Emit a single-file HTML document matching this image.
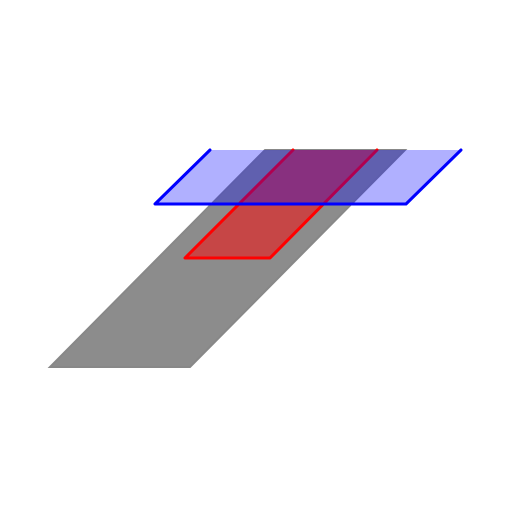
<!DOCTYPE html>
<html><head><meta charset="utf-8"><style>html,body{margin:0;padding:0;background:#fff;width:512px;height:512px;overflow:hidden}</style></head>
<body>
<svg id="chart" width="512" height="512" viewBox="0 0 512 512" xmlns="http://www.w3.org/2000/svg"></svg>
<script>
const grayQuad = [[50,367],[190,367],[405,150],[265,150]];
const redQuad = [[185,258],[270,258],[377,150],[293,150]];
const blueQuad = [[155,204],[406,204],[461,150],[210,150]];
const NS = 'http://www.w3.org/2000/svg';
const svg = document.getElementById('chart');
function pts(q){return q.map(p=>p.join(',')).join(' ');}
function quad(q, fill, op, name){
  const p = document.createElementNS(NS,'polygon');
  p.setAttribute('points', pts(q));
  p.setAttribute('fill', fill);
  p.setAttribute('fill-opacity', op);
  p.setAttribute('stroke', 'none');
  
  
  svg.appendChild(p);
}
function edges(q, color, name){
  const l = document.createElementNS(NS,'polyline');
  l.setAttribute('points', pts([q[3],q[0],q[1],q[2]]));
  l.setAttribute('fill','none');
  l.setAttribute('stroke', color);
  l.setAttribute('stroke-width','3');
  l.setAttribute('stroke-linecap','round');
  l.setAttribute('stroke-linejoin','round');
  
  
  svg.appendChild(l);
}
quad(grayQuad, '#8c8c8c', 1, 'gray-plane');
const ge = document.createElementNS(NS,'polygon');
ge.setAttribute('points', pts(grayQuad));
ge.setAttribute('fill','none'); ge.setAttribute('stroke','#888'); ge.setAttribute('stroke-width','2');


svg.appendChild(ge);
quad(redQuad, '#ff0000', 0.5, 'red-plane');
edges(redQuad, '#ff0000', 'red-plane-edge');
quad(blueQuad, '#0000ff', 0.31, 'blue-plane');
edges(blueQuad, '#0000ff', 'blue-plane-edge');
</script>
</body></html>
